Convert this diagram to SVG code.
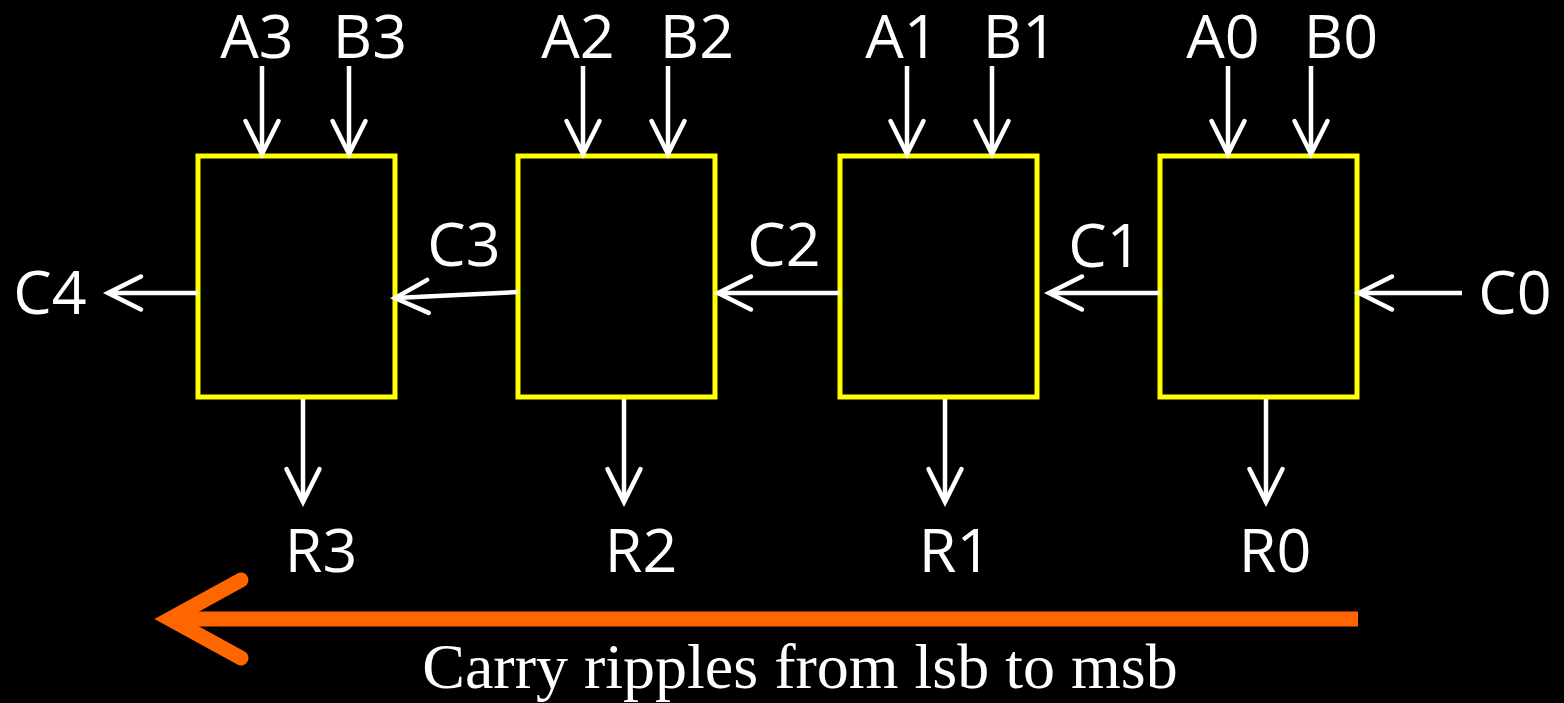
<svg xmlns="http://www.w3.org/2000/svg" width="1564" height="703" viewBox="0 0 1564 703">
<defs>
<style>
.box{fill:#000;stroke:#FFFF00;stroke-width:5}
.wire{stroke:#fff;stroke-width:4.5;fill:none}
.lbl{font-family:"Open Sans","Noto Sans",sans-serif;font-size:61px;fill:#fff;text-anchor:middle}
.cap{font-family:"Liberation Serif","Times New Roman",serif;font-size:64px;fill:#fff;text-anchor:middle}
</style>
<marker id="ah" markerUnits="userSpaceOnUse" orient="auto" overflow="visible" refX="0" refY="0" markerWidth="10" markerHeight="10">
<path d="M-33,-16.5 L0,0 L-33,16.5" fill="none" stroke="#fff" stroke-width="4.5" stroke-linecap="round" stroke-linejoin="miter"/>
</marker>
</defs>
<rect x="0" y="0" width="1564" height="703" fill="#000"/>
<g id="adder3"><rect class="box" x="198" y="156" width="197" height="241"/></g>
<g id="adder2"><rect class="box" x="518" y="156" width="197" height="241"/></g>
<g id="adder1"><rect class="box" x="840" y="156" width="197" height="241"/></g>
<g id="adder0"><rect class="box" x="1160" y="156" width="197" height="241"/></g>
<g id="labels">
<text class="lbl" x="257" y="58">A3</text>
<text class="lbl" x="370" y="58">B3</text>
<text class="lbl" x="578" y="58">A2</text>
<text class="lbl" x="697" y="58">B2</text>
<text class="lbl" x="902" y="58">A1</text>
<text class="lbl" x="1020" y="58">B1</text>
<text class="lbl" x="1223" y="58">A0</text>
<text class="lbl" x="1341" y="58">B0</text>
<text class="lbl" x="50" y="314">C4</text>
<text class="lbl" x="464" y="266">C3</text>
<text class="lbl" x="784" y="266">C2</text>
<text class="lbl" x="1105" y="267">C1</text>
<text class="lbl" x="1515" y="314">C0</text>
<text class="lbl" x="321" y="572">R3</text>
<text class="lbl" x="641" y="572">R2</text>
<text class="lbl" x="955" y="572">R1</text>
<text class="lbl" x="1275" y="572">R0</text>
</g>
<g id="connectors">
<line class="wire" x1="262" y1="66" x2="262" y2="154" marker-end="url(#ah)"/>
<line class="wire" x1="349" y1="66" x2="349" y2="154" marker-end="url(#ah)"/>
<line class="wire" x1="583" y1="66" x2="583" y2="154" marker-end="url(#ah)"/>
<line class="wire" x1="668" y1="66" x2="668" y2="154" marker-end="url(#ah)"/>
<line class="wire" x1="907" y1="66" x2="907" y2="154" marker-end="url(#ah)"/>
<line class="wire" x1="992" y1="66" x2="992" y2="154" marker-end="url(#ah)"/>
<line class="wire" x1="1228" y1="66" x2="1228" y2="154" marker-end="url(#ah)"/>
<line class="wire" x1="1311" y1="66" x2="1311" y2="154" marker-end="url(#ah)"/>
<line class="wire" x1="1462" y1="293" x2="1359" y2="293" marker-end="url(#ah)"/>
<line class="wire" x1="1160" y1="293" x2="1049" y2="293" marker-end="url(#ah)"/>
<line class="wire" x1="840" y1="293" x2="718" y2="293" marker-end="url(#ah)"/>
<line class="wire" x1="518" y1="292" x2="395" y2="298" marker-end="url(#ah)"/>
<line class="wire" x1="198" y1="293" x2="108" y2="293" marker-end="url(#ah)"/>
<line class="wire" x1="303" y1="399" x2="303" y2="502" marker-end="url(#ah)"/>
<line class="wire" x1="624" y1="399" x2="624" y2="502" marker-end="url(#ah)"/>
<line class="wire" x1="945" y1="399" x2="945" y2="502" marker-end="url(#ah)"/>
<line class="wire" x1="1266" y1="399" x2="1266" y2="502" marker-end="url(#ah)"/>
</g>
<g id="ripple">
<line x1="1358" y1="619" x2="175" y2="619" stroke="#FF6600" stroke-width="15"/>
<path d="M241,580 L170,619 L241,658" fill="none" stroke="#FF6600" stroke-width="15" stroke-linecap="round" stroke-linejoin="miter"/>
<text class="cap" x="800" y="688">Carry ripples from lsb to msb</text>
</g>
</svg>
